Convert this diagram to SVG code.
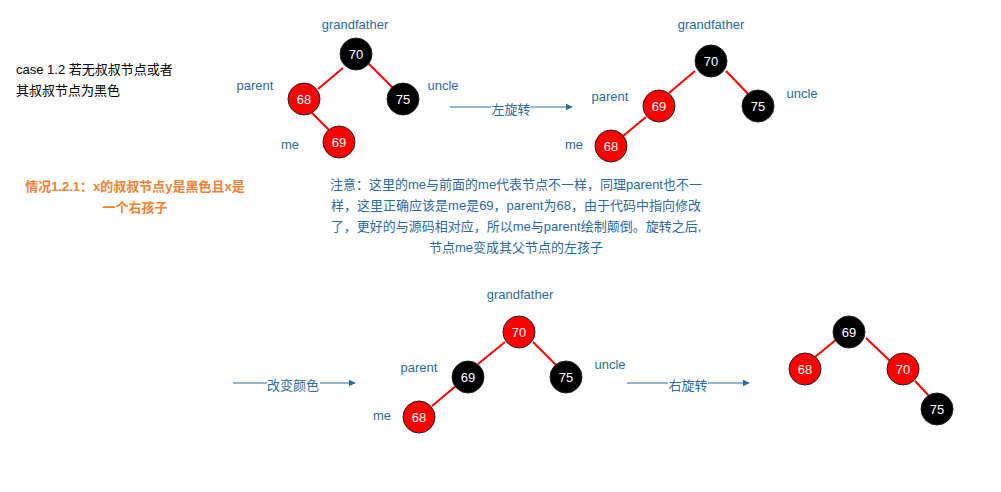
<svg xmlns="http://www.w3.org/2000/svg" width="1001" height="492" viewBox="0 0 1001 492">
<defs>
<marker id="ah" viewBox="0 0 10 10" refX="9" refY="5" markerWidth="7" markerHeight="7" markerUnits="userSpaceOnUse" orient="auto"><path d="M0,0 L10,5 L0,10 Z" fill="#2d6a9e"/></marker>
<style>
text{font-family:"Liberation Sans","Noto Sans CJK SC",sans-serif;font-size:13px}
.lbl{fill:#2d6a9e;text-anchor:middle}
.num{fill:#fff;text-anchor:middle}
.r{fill:#ff0000;stroke:#222;stroke-width:1}
.b{fill:#000;stroke:#222;stroke-width:1}
.e{stroke:#ff0000;stroke-width:2;fill:none}
.a{stroke:#2d6a9e;stroke-width:1;fill:none;marker-end:url(#ah)}
.al{fill:#2d6a9e;text-anchor:middle}
.or{fill:#f08232;font-weight:bold;text-anchor:middle}
</style>
</defs>
<rect width="1001" height="492" fill="#fff"/>
<g id="caption">
<text x="16" y="74" fill="#000">case 1.2 若无叔叔节点或者</text>
<text x="16" y="95" fill="#000">其叔叔节点为黑色</text>
</g>
<g id="case-title">
<text class="or" x="135" y="191">情况1.2.1：x的叔叔节点y是黑色且x是</text>
<text class="or" x="135" y="212">一个右孩子</text>
</g>
<g id="note">
<text class="lbl" x="516" y="189">注意：这里的me与前面的me代表节点不一样，同理parent也不一</text>
<text class="lbl" x="516" y="210">样，这里正确应该是me是69，parent为68，由于代码中指向修改</text>
<text class="lbl" x="516" y="231">了，更好的与源码相对应，所以me与parent绘制颠倒。旋转之后,</text>
<text class="lbl" x="516" y="252">节点me变成其父节点的左孩子</text>
</g>
<g id="connectors">
<line class="e" x1="343" y1="68" x2="318" y2="89"/>
<line class="e" x1="368" y1="63" x2="396" y2="91"/>
<line class="e" x1="312" y1="113" x2="330" y2="131"/>
<line class="e" x1="695" y1="71" x2="669" y2="93"/>
<line class="e" x1="726" y1="71" x2="752" y2="98"/>
<line class="e" x1="646" y1="117" x2="623" y2="136"/>
<line class="e" x1="505" y1="342" x2="478" y2="364"/>
<line class="e" x1="533" y1="342" x2="560" y2="369"/>
<line class="e" x1="457" y1="385" x2="432" y2="406"/>
<line class="e" x1="837" y1="339" x2="815" y2="357"/>
<line class="e" x1="866" y1="338" x2="890" y2="361"/>
<line class="e" x1="915" y1="381" x2="930" y2="397"/>
<line class="a" x1="450" y1="107" x2="572" y2="107"/>
<line class="a" x1="233" y1="383" x2="355" y2="383"/>
<line class="a" x1="627" y1="383" x2="749" y2="383"/>
</g>
<g id="arrow-labels">
<rect x="491" y="100" width="40" height="15" fill="#fff"/>
<text class="al" x="511" y="114">左旋转</text>
<rect x="267" y="376" width="53" height="15" fill="#fff"/>
<text class="al" x="293" y="390">改变颜色</text>
<rect x="668" y="376" width="40" height="15" fill="#fff"/>
<text class="al" x="688" y="390">右旋转</text>
</g>
<g id="tree1">
<text class="lbl" x="355" y="29">grandfather</text>
<text class="lbl" x="255" y="90">parent</text>
<text class="lbl" x="443" y="90">uncle</text>
<text class="lbl" x="290" y="149">me</text>
<g id="t1-70"><circle class="b" cx="356" cy="54" r="16"/><text class="num" x="356" y="59">70</text></g>
<g id="t1-68"><circle class="r" cx="304" cy="99" r="16"/><text class="num" x="304" y="104">68</text></g>
<g id="t1-75"><circle class="b" cx="403" cy="99" r="16"/><text class="num" x="403" y="104">75</text></g>
<g id="t1-69"><circle class="r" cx="339" cy="142" r="16"/><text class="num" x="339" y="147">69</text></g>
</g>
<g id="tree2">
<text class="lbl" x="711" y="29">grandfather</text>
<text class="lbl" x="610" y="101">parent</text>
<text class="lbl" x="802" y="98">uncle</text>
<text class="lbl" x="574" y="149">me</text>
<g id="t2-70"><circle class="b" cx="711" cy="61" r="16"/><text class="num" x="711" y="66">70</text></g>
<g id="t2-69"><circle class="r" cx="659" cy="106" r="16"/><text class="num" x="659" y="111">69</text></g>
<g id="t2-75"><circle class="b" cx="758" cy="106" r="16"/><text class="num" x="758" y="111">75</text></g>
<g id="t2-68"><circle class="r" cx="611" cy="146" r="16"/><text class="num" x="611" y="151">68</text></g>
</g>
<g id="tree3">
<text class="lbl" x="520" y="299">grandfather</text>
<text class="lbl" x="419" y="372">parent</text>
<text class="lbl" x="610" y="369">uncle</text>
<text class="lbl" x="382" y="420">me</text>
<g id="t3-70"><circle class="r" cx="519" cy="332" r="16"/><text class="num" x="519" y="337">70</text></g>
<g id="t3-69"><circle class="b" cx="468" cy="377" r="16"/><text class="num" x="468" y="382">69</text></g>
<g id="t3-75"><circle class="b" cx="566" cy="377" r="16"/><text class="num" x="566" y="382">75</text></g>
<g id="t3-68"><circle class="r" cx="419" cy="417" r="16"/><text class="num" x="419" y="422">68</text></g>
</g>
<g id="tree4">
<g id="t4-69"><circle class="b" cx="849" cy="332" r="16"/><text class="num" x="849" y="337">69</text></g>
<g id="t4-68"><circle class="r" cx="805" cy="369" r="16"/><text class="num" x="805" y="374">68</text></g>
<g id="t4-70"><circle class="r" cx="903" cy="369" r="16"/><text class="num" x="903" y="374">70</text></g>
<g id="t4-75"><circle class="b" cx="937" cy="409" r="16"/><text class="num" x="937" y="414">75</text></g>
</g>
</svg>
